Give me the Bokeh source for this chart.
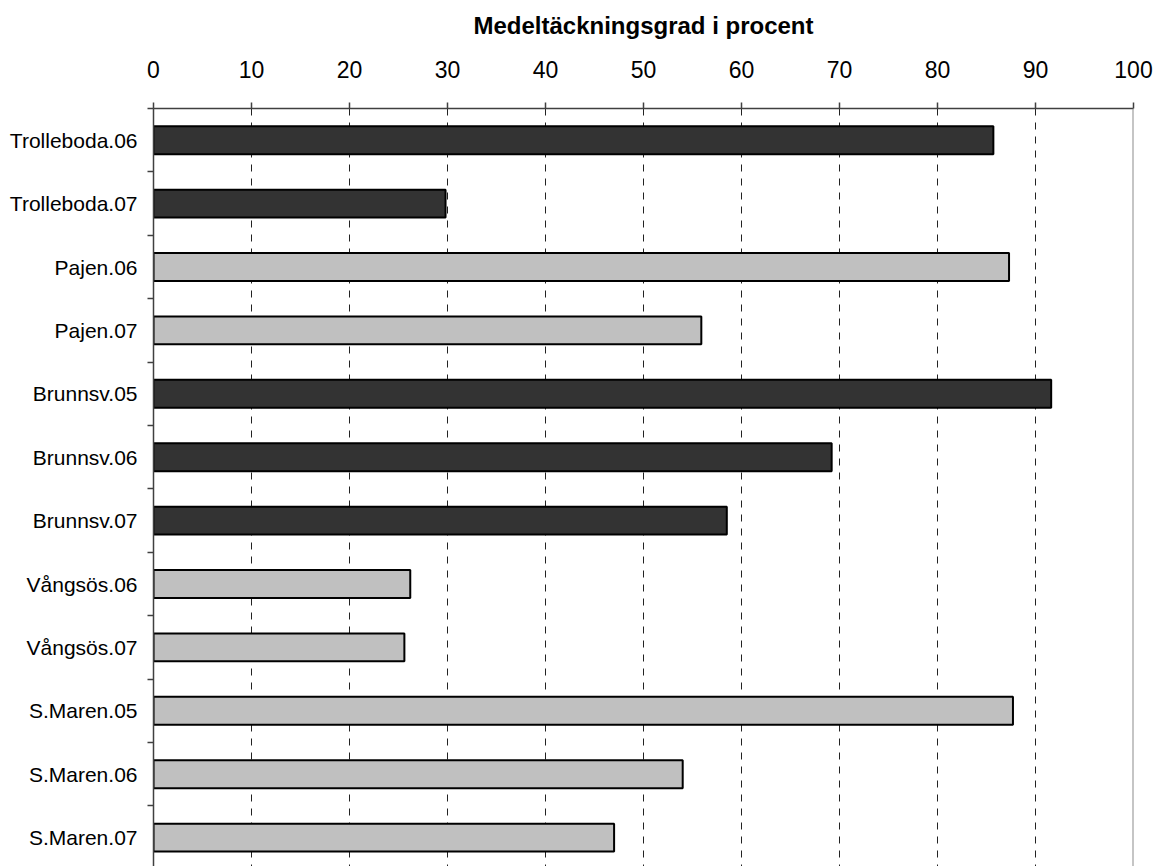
from bokeh.plotting import figure
from bokeh.models import Range1d, FixedTicker, Span
from bokeh.embed import file_html
from bokeh.resources import INLINE

# Mean coverage (percent) per site and year
sites = ["Trolleboda.06", "Trolleboda.07", "Pajen.06", "Pajen.07",
         "Brunnsv.05", "Brunnsv.06", "Brunnsv.07", "Vångsös.06",
         "Vångsös.07", "S.Maren.05", "S.Maren.06", "S.Maren.07"]
coverage = [85.7, 29.8, 87.3, 55.9, 91.6, 69.2, 58.5, 26.2, 25.6, 87.7, 54.0, 47.0]
groups = ["dark", "dark", "light", "light", "dark", "dark", "dark",
          "light", "light", "light", "light", "light"]
x_ticks = [0, 10, 20, 30, 40, 50, 60, 70, 80, 90, 100]
axis_title = "Medeltäckningsgrad i procent"

palette = {"dark": "#333333", "light": "#c0c0c0"}
font = "Liberation Sans"

W, H = 1160, 866
top, left, right = 108, 153, 27
band = 63.4  # pixels per site row
frame_h = H - top
pos = list(range(len(sites)))

p = figure(width=W, height=H, output_backend="svg", toolbar_location=None,
           x_axis_location="above",
           x_range=Range1d(0, 100),
           y_range=Range1d(-0.5 + frame_h / band, -0.5),
           min_border_left=left, min_border_right=right,
           min_border_top=top, min_border_bottom=0)

p.hbar(y=pos, right=coverage, left=0, height=0.44,
       fill_color=[palette[g] for g in groups],
       line_color="black", line_width=2)

# right frame edge
p.add_layout(Span(location=100, dimension="height",
                  line_color="#8c8c8c", line_width=2))

p.outline_line_color = None
p.background_fill_color = "white"
p.border_fill_color = "white"

# vertical dashed grid
p.xgrid.ticker = FixedTicker(ticks=x_ticks)
p.xgrid.grid_line_color = "#222222"
p.xgrid.grid_line_dash = "7 7"
p.xgrid.grid_line_width = 1
p.ygrid.grid_line_color = None

# top value axis
xa = p.xaxis[0]
xa.ticker = FixedTicker(ticks=x_ticks)
xa.axis_line_color = "#404040"
xa.axis_line_width = 1.5
xa.major_tick_line_color = "#404040"
xa.major_tick_line_width = 1.5
xa.major_tick_out = 6
xa.major_tick_in = 0
xa.minor_tick_line_color = None
xa.major_label_text_font = font
xa.major_label_text_font_size = "23px"
xa.major_label_text_color = "black"
xa.major_label_standoff = 25
xa.axis_label = axis_title
xa.axis_label_text_font = font
xa.axis_label_text_font_size = "24px"
xa.axis_label_text_font_style = "bold"
xa.axis_label_text_color = "black"
xa.axis_label_standoff = 19

# site axis: labels at row centres, ticks at row boundaries
ya = p.yaxis[0]
ya.ticker = FixedTicker(ticks=pos, minor_ticks=[i - 0.5 for i in range(len(sites) + 1)])
ya.major_label_overrides = {i: s for i, s in enumerate(sites)}
ya.axis_line_color = "#404040"
ya.axis_line_width = 1.5
ya.major_tick_line_color = None
ya.major_tick_out = 0
ya.major_tick_in = 0
ya.minor_tick_line_color = "#404040"
ya.minor_tick_line_width = 1.5
ya.minor_tick_out = 6
ya.minor_tick_in = 0
ya.major_label_text_font = font
ya.major_label_text_font_size = "21px"
ya.major_label_text_color = "black"
ya.major_label_standoff = 10

open("out.html", "w").write(file_html(p, INLINE))
